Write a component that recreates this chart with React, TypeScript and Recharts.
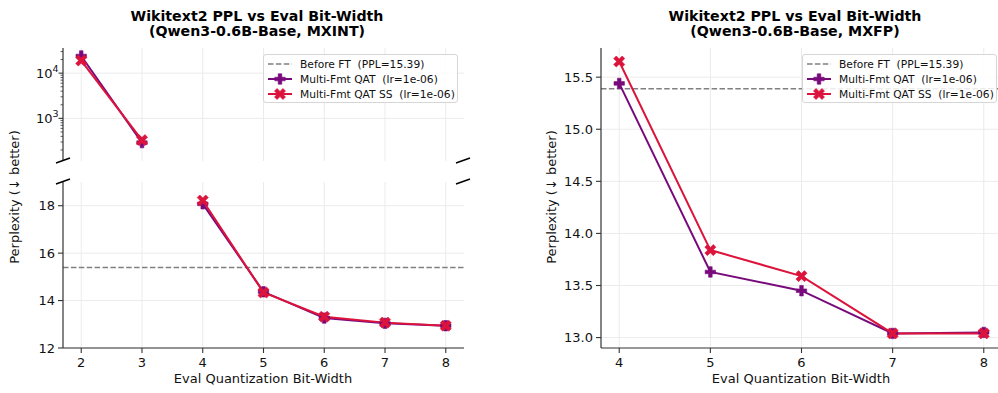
import React from 'react';
import { LineChart, Line, XAxis, YAxis, CartesianGrid, ReferenceLine } from 'recharts';

const FONT = '"DejaVu Sans", Verdana, sans-serif';
const PURPLE = '#780a7c';
const RED = '#dc143c';
const GRAY = '#808080';
const GRID = '#ebebeb';
const AXIS = '#333333';
const TEXT = '#111111';

const TITLE_LINE1 = 'Wikitext2 PPL vs Eval Bit-Width';
const TITLE_INT = '(Qwen3-0.6B-Base, MXINT)';
const TITLE_FP = '(Qwen3-0.6B-Base, MXFP)';
const X_LABEL = 'Eval Quantization Bit-Width';
const Y_LABEL = 'Perplexity (\u2193 better)';
const LEGEND_LABELS = ['Before FT  (PPL=15.39)', 'Multi-Fmt QAT  (lr=1e-06)', 'Multi-Fmt QAT SS  (lr=1e-06)'];

const BEFORE_FT_PPL = 15.39;

// MXINT, upper (log) part of the broken axis
const INT_BITS_HIGH = [2, 3];
const INT_QAT_HIGH = [24000, 290];
const INT_SS_HIGH = [19000, 330];

// MXINT, lower (linear) part
const INT_BITS_LOW = [4, 5, 6, 7, 8];
const INT_QAT_LOW = [18.08, 14.37, 13.26, 13.04, 12.94];
const INT_SS_LOW = [18.22, 14.34, 13.32, 13.07, 12.94];

// MXFP
const FP_BITS = [4, 5, 6, 7, 8];
const FP_QAT = [15.44, 13.63, 13.45, 13.04, 13.05];
const FP_SS = [15.65, 13.84, 13.59, 13.04, 13.04];

const INT_X_TICKS = [2, 3, 4, 5, 6, 7, 8];
const FP_X_TICKS = [4, 5, 6, 7, 8];
const INT_LOW_Y_TICKS = [12, 14, 16, 18];
const LOG_MAJOR_TICKS = [1000, 10000];
const LOG_MINOR_TICKS = [200, 300, 400, 500, 600, 700, 800, 900, 2000, 3000, 4000, 5000, 6000, 7000, 8000, 9000, 20000, 30000];
const FP_Y_TICKS = [13.0, 13.5, 14.0, 14.5, 15.0, 15.5];

const build = (bits: number[], qat: number[], ss: number[]) =>
  bits.map((b, i) => ({ bits: b, qat: qat[i], ss: ss[i] }));

const intHigh = build(INT_BITS_HIGH, INT_QAT_HIGH, INT_SS_HIGH);
const intLow = build(INT_BITS_LOW, INT_QAT_LOW, INT_SS_LOW);
const fpData = build(FP_BITS, FP_QAT, FP_SS);

const plusPoints = (s: number, t: number) =>
  [
    [-t, -s], [t, -s], [t, -t], [s, -t], [s, t], [t, t],
    [t, s], [-t, s], [-t, t], [-s, t], [-s, -t], [-t, -t],
  ];

const shapePath = (cx: number, cy: number, kind: 'plus' | 'x') => {
  const pts = kind === 'plus' ? plusPoints(5.2, 1.8) : plusPoints(6.0, 1.85);
  const ang = kind === 'x' ? Math.PI / 4 : 0;
  const c = Math.cos(ang), s = Math.sin(ang);
  return pts
    .map(([x, y]) => `${(cx + x * c - y * s).toFixed(2)},${(cy + x * s + y * c).toFixed(2)}`)
    .join(' ');
};

const Marker = ({ cx, cy, kind, color }: any) => {
  if (cx == null || cy == null || isNaN(cx) || isNaN(cy)) return null;
  return <polygon points={shapePath(cx, cy, kind)} fill={color} stroke={color} strokeWidth={0.6} strokeLinejoin="round" />;
};

const dotFor = (kind: 'plus' | 'x', color: string, id: string) => (p: any) => (
  <Marker key={`${id}-${p.index}`} cx={p.cx} cy={p.cy} kind={kind} color={color} />
);

const LogTick = (props: any) => {
  const { x, y, payload } = props;
  const v = payload.value;
  const exp = Math.round(Math.log10(v));
  const major = Math.abs(Math.pow(10, exp) - v) < 1e-6;
  const axisX = x + 8;
  return (
    <g>
      <line x1={axisX - (major ? 4.5 : 2.5)} x2={axisX} y1={y} y2={y} stroke={AXIS} strokeWidth={major ? 1.1 : 0.8} />
      {major && (
        <text x={x + 3.5} y={y} textAnchor="end" dy="0.36em" fontSize={13} fill={TEXT} fontFamily={FONT}>
          10<tspan dy={-6} fontSize={9.5}>{exp}</tspan>
        </text>
      )}
    </g>
  );
};

const axisLineStyle = { stroke: AXIS, strokeWidth: 1.2 };
const tickLineStyle = { stroke: AXIS, strokeWidth: 1.1 };
const tickStyle = { fontSize: 13, fill: TEXT, fontFamily: FONT };
const zeroMargin = { top: 0, right: 0, bottom: 0, left: 0 };

const LegendBox = ({ left, top }: { left: number; top: number }) => {
  const icons = [
    <line key="a" x1={0} x2={24} y1={5} y2={5} stroke={GRAY} strokeWidth={1.5} strokeDasharray="5.5 2.4" />,
    <g key="b">
      <line x1={0} x2={24} y1={5} y2={5} stroke={PURPLE} strokeWidth={2} />
      <Marker cx={12} cy={5} kind="plus" color={PURPLE} />
    </g>,
    <g key="c">
      <line x1={0} x2={24} y1={5} y2={5} stroke={RED} strokeWidth={2} />
      <Marker cx={12} cy={5} kind="x" color={RED} />
    </g>,
  ];
  return (
    <div
      style={{
        position: 'absolute',
        left,
        top,
        width: 195,
        height: 49,
        boxSizing: 'border-box',
        background: 'rgba(255,255,255,0.85)',
        border: '1px solid #d6d6d6',
        borderRadius: 3,
        fontFamily: FONT,
        fontSize: 10.7,
        color: TEXT,
      }}
    >
      {LEGEND_LABELS.map((label, i) => (
        <div
          key={label}
          style={{ position: 'absolute', left: 3.5, top: 2 + i * 15, height: 15, display: 'flex', alignItems: 'center' }}
        >
          <svg width={24} height={11} style={{ overflow: 'visible' }}>{icons[i]}</svg>
          <span style={{ marginLeft: 8.5, whiteSpace: 'pre', lineHeight: '15px' }}>{label}</span>
        </div>
      ))}
    </div>
  );
};

export default function App() {
  return (
    <div
      style={{
        position: 'fixed',
        left: 0,
        top: 0,
        width: 998,
        height: 393,
        overflow: 'hidden',
        background: '#ffffff',
        fontFamily: FONT,
      }}
    >
      {/* MXINT upper (log) */}
      <div style={{ position: 'absolute', left: 0, top: 48 }}>
        <LineChart width={464} height={113} data={intHigh} margin={zeroMargin}>
          <CartesianGrid stroke={GRID} strokeWidth={1} horizontalValues={LOG_MAJOR_TICKS} verticalValues={INT_X_TICKS} />
          <XAxis type="number" dataKey="bits" domain={[1.7, 8.3]} ticks={INT_X_TICKS} hide />
          <YAxis
            type="number"
            scale="log"
            domain={[114, 36000]}
            allowDataOverflow
            ticks={[...LOG_MINOR_TICKS, ...LOG_MAJOR_TICKS]}
            interval={0}
            width={63}
            tickSize={5}
            tickMargin={3}
            tickLine={false}
            tick={<LogTick />}
            axisLine={axisLineStyle}
          />
          <Line type="linear" dataKey="qat" stroke={PURPLE} strokeWidth={2} isAnimationActive={false} dot={dotFor('plus', PURPLE, 'ih-q')} activeDot={false} />
          <Line type="linear" dataKey="ss" stroke={RED} strokeWidth={2} isAnimationActive={false} dot={dotFor('x', RED, 'ih-s')} activeDot={false} />
        </LineChart>
      </div>

      {/* MXINT lower (linear) */}
      <div style={{ position: 'absolute', left: 0, top: 182 }}>
        <LineChart width={464} height={206} data={intLow} margin={zeroMargin}>
          <CartesianGrid stroke={GRID} strokeWidth={1} horizontalValues={INT_LOW_Y_TICKS} verticalValues={INT_X_TICKS} />
          <XAxis
            type="number"
            dataKey="bits"
            domain={[1.7, 8.3]}
            ticks={INT_X_TICKS}
            interval={0}
            height={40}
            tickSize={5}
            tickMargin={5}
            tick={tickStyle}
            tickLine={tickLineStyle}
            axisLine={axisLineStyle}
          />
          <YAxis
            type="number"
            domain={[12, 19]}
            allowDataOverflow
            ticks={INT_LOW_Y_TICKS}
            interval={0}
            width={63}
            tickSize={5}
            tickMargin={3}
            tick={tickStyle}
            tickLine={tickLineStyle}
            axisLine={axisLineStyle}
          />
          <ReferenceLine y={BEFORE_FT_PPL} stroke={GRAY} strokeWidth={1.5} strokeDasharray="5.5 2.4" />
          <Line type="linear" dataKey="qat" stroke={PURPLE} strokeWidth={2} isAnimationActive={false} dot={dotFor('plus', PURPLE, 'il-q')} activeDot={false} />
          <Line type="linear" dataKey="ss" stroke={RED} strokeWidth={2} isAnimationActive={false} dot={dotFor('x', RED, 'il-s')} activeDot={false} />
        </LineChart>
      </div>

      {/* MXFP */}
      <div style={{ position: 'absolute', left: 538, top: 48 }}>
        <LineChart width={464} height={340} data={fpData} margin={zeroMargin}>
          <CartesianGrid stroke={GRID} strokeWidth={1} horizontalValues={FP_Y_TICKS} verticalValues={FP_X_TICKS} />
          <XAxis
            type="number"
            dataKey="bits"
            domain={[3.8, 8.2]}
            ticks={FP_X_TICKS}
            interval={0}
            height={40}
            tickSize={5}
            tickMargin={5}
            tick={tickStyle}
            tickLine={tickLineStyle}
            axisLine={axisLineStyle}
          />
          <YAxis
            type="number"
            domain={[12.9, 15.78]}
            allowDataOverflow
            ticks={FP_Y_TICKS}
            interval={0}
            width={63}
            tickSize={5}
            tickMargin={3}
            tick={tickStyle}
            tickLine={tickLineStyle}
            tickFormatter={(v: number) => v.toFixed(1)}
            axisLine={axisLineStyle}
          />
          <ReferenceLine y={BEFORE_FT_PPL} stroke={GRAY} strokeWidth={1.5} strokeDasharray="5.5 2.4" />
          <Line type="linear" dataKey="qat" stroke={PURPLE} strokeWidth={2} isAnimationActive={false} dot={dotFor('plus', PURPLE, 'f-q')} activeDot={false} />
          <Line type="linear" dataKey="ss" stroke={RED} strokeWidth={2} isAnimationActive={false} dot={dotFor('x', RED, 'f-s')} activeDot={false} />
        </LineChart>
      </div>

      <LegendBox left={263} top={54} />
      <LegendBox left={802} top={54} />

      {/* titles, axis labels, break marks */}
      <svg width={998} height={393} style={{ position: 'absolute', left: 0, top: 0, pointerEvents: 'none' }}>
        <g fontFamily={FONT} fontWeight="bold" fontSize={14.2} fill="#000" textAnchor="middle">
          <text x={257} y={21}>{TITLE_LINE1}</text>
          <text x={257} y={36}>{TITLE_INT}</text>
          <text x={795} y={21}>{TITLE_LINE1}</text>
          <text x={795} y={36}>{TITLE_FP}</text>
        </g>
        <g fontFamily={FONT} fontSize={13} fill={TEXT} textAnchor="middle">
          <text x={263} y={382.5}>{X_LABEL}</text>
          <text x={801} y={382.5}>{X_LABEL}</text>
          <text x={0} y={0} transform="translate(18.5,197) rotate(-90)">{Y_LABEL}</text>
          <text x={0} y={0} transform="translate(555.5,197) rotate(-90)">{Y_LABEL}</text>
        </g>
        <g stroke="#000" strokeWidth={1.4}>
          <line x1={56} y1={163} x2={70} y2={158} />
          <line x1={56} y1={184} x2={70} y2={179} />
          <line x1={456} y1={163} x2={470} y2={158} />
          <line x1={456} y1={184} x2={470} y2={179} />
        </g>
      </svg>
    </div>
  );
}
